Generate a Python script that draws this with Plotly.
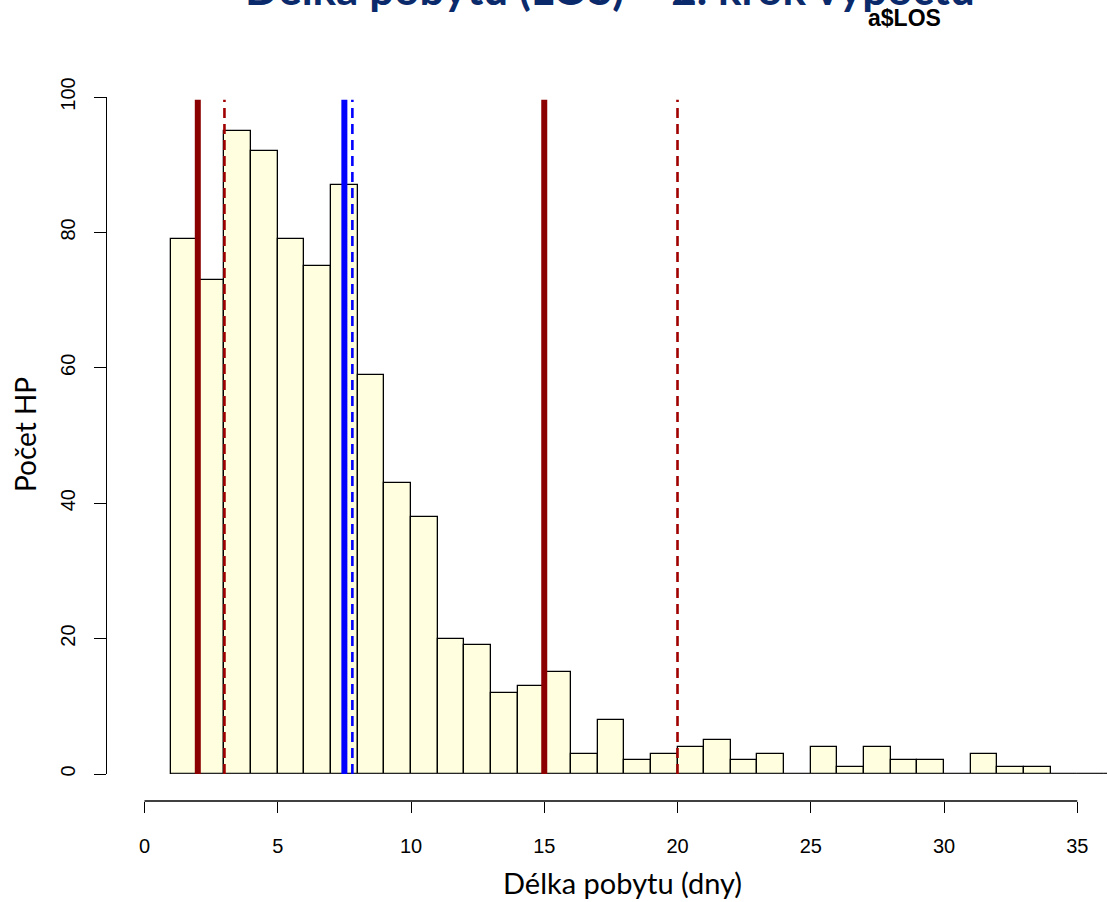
import plotly.graph_objects as go

# ---- data ----
bin_starts = list(range(1, 38))
counts = [79, 73, 95, 92, 79, 75, 87, 59, 43, 38,
          20, 19, 12, 13, 15, 3, 8, 2, 3, 4,
          5, 2, 3, 0, 4, 1, 4, 2, 2, 0,
          3, 1, 1, 0, 0, 0, 0]
red_solid_x = [2, 15]
red_dashed_x = [3, 20]
blue_solid_x = [7.5]
blue_dashed_x = [7.8]
x_ticks = [0, 5, 10, 15, 20, 25, 30, 35]
y_ticks = [0, 20, 40, 60, 80, 100]

title_text = "Délka pobytu (LOS) – 2. krok výpočtu"
sub_text = "a$LOS"
x_title = "Délka pobytu (dny)"
y_title = "Počet HP"

LINE_TOP = 99.6

fig = go.Figure()

fig.add_trace(go.Bar(
    x=bin_starts, y=counts, width=1, offset=0,
    marker=dict(color="#FFFFE0", line=dict(color="black", width=1.3)),
    hoverinfo="x+y", showlegend=False,
))

# baseline along the bins (zero-height bars)
fig.add_trace(go.Scatter(
    x=[bin_starts[0], bin_starts[-1] + 1], y=[0, 0], mode="lines",
    line=dict(color="#333333", width=1.3), showlegend=False, hoverinfo="skip",
))

def vlines(xs, color, width, dash):
    for v in xs:
        fig.add_trace(go.Scatter(
            x=[v, v], y=[0, LINE_TOP], mode="lines",
            line=dict(color=color, width=width, dash=dash),
            showlegend=False, hoverinfo="x",
        ))

vlines(red_solid_x, "#8B0000", 6, "solid")
vlines(red_dashed_x, "#A00000", 2.6, "10px,6px")
vlines(blue_solid_x, "#0000FF", 6, "solid")
vlines(blue_dashed_x, "#0000FF", 2.6, "10px,6px")

W, H = 1107, 902
ml, mr, mt, mb = 107, 0, 97, 101
x0_px, unit = 144.5, 26.65
xr = [-(x0_px - ml) / unit, (W - mr - x0_px) / unit]
paper_h = H - mt - mb
ydom0 = (801 - 774) / paper_h

def py(p):
    return (H - mb - p) / paper_h

def px(p):
    return (p - ml) / (W - ml - mr)

fig.update_layout(
    width=W, height=H,
    margin=dict(l=ml, r=mr, t=mt, b=mb, pad=0),
    paper_bgcolor="white", plot_bgcolor="white",
    bargap=0,
    font=dict(family="Liberation Sans, Arial, sans-serif", color="black"),
    xaxis=dict(
        range=xr, anchor="free", position=0,
        showline=False, showgrid=False, zeroline=False,
        tickmode="array", tickvals=x_ticks,
        ticks="outside", ticklen=11, tickwidth=1.3, tickcolor="black",
        tickfont=dict(size=20, family="Liberation Sans, Arial, sans-serif"),
        ticklabelstandoff=16,
    ),
    yaxis=dict(
        domain=[ydom0, 1], range=[0, 100], anchor="x",
        showline=True, linecolor="black", linewidth=1.3,
        showgrid=False, zeroline=False,
        tickmode="array", tickvals=y_ticks,
        ticks="outside", ticklen=12, tickwidth=1.3, tickcolor="black",
        tickangle=-90,
        tickfont=dict(size=20, family="Liberation Sans, Arial, sans-serif"),
        ticklabelstandoff=11,
    ),
    shapes=[dict(
        type="line", xref="x", yref="paper",
        x0=x_ticks[0], x1=x_ticks[-1], y0=0, y1=0,
        line=dict(color="black", width=1.3), layer="above",
    )],
    annotations=[
        dict(text=title_text, xref="paper", yref="paper",
             x=px(610), y=py(16), xanchor="center", yanchor="bottom",
             showarrow=False,
             font=dict(family="Lato, Open Sans, sans-serif", size=44, color="#0B2A6B", weight="bold")),
        dict(text=sub_text, xref="paper", yref="paper",
             x=px(904), y=py(18), xanchor="center", yanchor="middle",
             showarrow=False,
             font=dict(family="Liberation Sans, Arial, sans-serif", size=23, color="black", weight="bold")),
        dict(text=x_title, xref="paper", yref="paper",
             x=px(622), y=py(882), xanchor="center", yanchor="middle",
             showarrow=False,
             font=dict(family="Lato, Open Sans, sans-serif", size=29, color="black")),
        dict(text=y_title, xref="paper", yref="paper",
             x=px(25), y=py(435), xanchor="center", yanchor="middle",
             textangle=-90, showarrow=False,
             font=dict(family="Lato, Open Sans, sans-serif", size=28, color="black")),
    ],
)

fig.write_html("out.html")
